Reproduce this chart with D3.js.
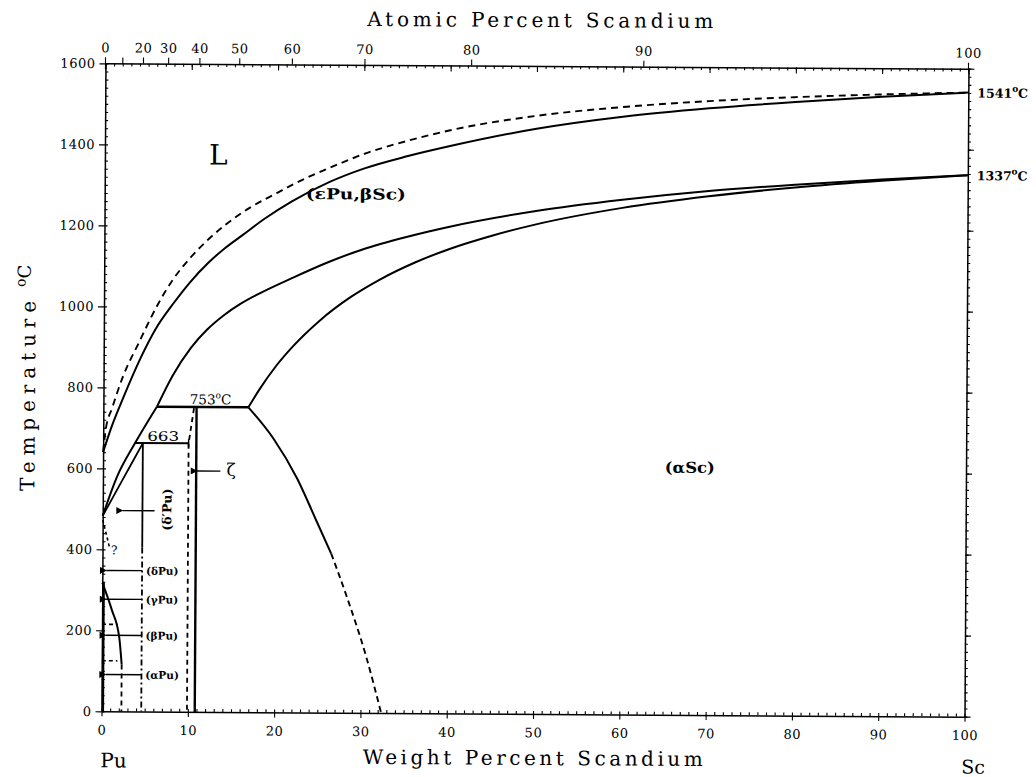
<!DOCTYPE html>
<html><head><meta charset="utf-8">
<script src="https://cdn.jsdelivr.net/npm/d3@7"></script>
<style>body{margin:0;background:#fff} svg{display:block}</style>
</head><body>
<svg id="c" width="1036" height="777"></svg>
<script>
// ---------- data (weight % Sc, temperature °C) ----------
const wtMajorTicks = d3.range(0, 101, 10);
const wtMinorTicks = d3.range(0, 101, 1);
const tempMajorTicks = d3.range(0, 1601, 200);
const tempMinorTicks = d3.range(0, 1601, 20);
const atTicks = [0, 10, 20, 30, 40, 50, 60, 70, 80, 90, 100];
const atTickLabels = [0, 20, 30, 40, 50, 60, 70, 80, 90, 100];

const liquidus = [[0,640],[0.3,698],[1,748],[2.3,830],[4,908],[6.3,1008],[8,1068],[10,1122],[12,1166],[14,1203],[17,1248],[20,1283],[22,1306],[26,1345],[30,1380],[35,1413],[40,1440],[50,1477],[60,1500],[70,1516],[80,1527],[90,1535],[100,1541]];
const solidusEB = [[0,640],[1,705],[2.3,775],[4.3,874],[6,945],[8.1,1010],[10,1062],[12,1108],[14,1146],[16,1178],[18.5,1218],[21.7,1262],[26,1310],[30,1344],[35,1375],[40,1401],[50,1445],[60,1476],[70,1498],[80,1515],[90,1529],[100,1541]];
const solvusEBupper = [[6.2,753],[8,830],[10.1,899],[12,945],[13.9,980],[15.8,1008],[17.8,1032],[21.7,1072],[26,1113],[30,1145],[35,1176],[40,1202],[50,1242],[60,1271],[70,1294],[80,1311],[90,1325],[100,1337]];
const solvusEBlower = [[0,483],[1.6,578],[3.7,663],[6.2,753]];
const solvusAlphaSc = [[16.8,753],[18,795],[20,856],[22,906],[25,968],[28.6,1027],[32,1071],[36,1113],[40,1147],[45,1181],[50,1209],[60,1251],[70,1281],[80,1304],[90,1322],[100,1337]];
const alphaScLowerSolid = [[16.8,753],[19.7,677],[22.5,578],[24.8,472],[26.5,393]];
const alphaScLowerDashed = [[26.5,393],[28.3,289],[30.6,141],[32.4,0]];
const deltaPrimeBoundary = [[0,483],[2.3,573],[4.6,663]];
const deltaPrimeSolid = [[4.6,663],[4.6,405]];
const deltaPrimeDashed = [[4.6,405],[4.6,0]];
const eutectoid753 = [[6.2,753],[16.8,753]];
const peritectic663 = [[3.7,663],[9.9,663]];
const zetaSolid = [[10.8,753],[10.8,0]];
const zetaDashed = [[10.5,750],[9.9,663],[9.9,0]];
const puSolvusCurve = [[0,318],[1.1,252],[2.0,183],[2.3,116]];
const puSolvusDashed = [[2.3,116],[2.3,0]];
const puEdge = [[0.15,318],[0.15,0]];
const puTransitions = [[[0,215],[1.8,215]], [[0,125],[1.8,125]]];
const questionLine = [[0,472],[0.4,440],[0.8,405]];
const puArrows = [ {t:348, label:"(δPu)"}, {t:277, label:"(γPu)"}, {t:188, label:"(βPu)"}, {t:91, label:"(αPu)"} ];
const meltPoints = [ {t:1541, label:"1541"}, {t:1337, label:"1337"} ];

// ---------- setup ----------
const svg = d3.select("#c");
const x = d3.scaleLinear().domain([0,100]).range([103.5,966.5]);
const y = d3.scaleLinear().domain([0,1600]).range([714,66]);
const PU = 244, SC = 44.956;
const at2wt = a => 100*a*SC/(a*SC + (100-a)*PU);
const xa = a => x(at2wt(a));

const g = svg.append("g").attr("transform","rotate(0.35,535,390)");
const serif = "DejaVu Serif";

const defs = svg.append("defs");
defs.append("marker").attr("id","ah").attr("viewBox","0 0 10 10").attr("refX",1).attr("refY",5)
  .attr("markerWidth",9).attr("markerHeight",7).attr("orient","auto-start-reverse")
  .attr("markerUnits","userSpaceOnUse")
  .append("path").attr("d","M0,5 L10,0 L10,10 Z").attr("fill","#000");

// ---------- axes ----------
function styleAxis(sel){
  sel.selectAll(".domain").attr("stroke","#000").attr("stroke-width",1.5);
  sel.selectAll(".tick line").attr("stroke","#000").attr("stroke-width",1.1);
  sel.selectAll(".tick text").attr("fill","#000").attr("font-family",serif).attr("font-size",13).attr("letter-spacing","0.5px");
  sel.attr("font-family",serif);
}
// bottom
const bMin = g.append("g").attr("transform",`translate(0,${y(0)})`)
  .call(d3.axisBottom(x).tickValues(wtMinorTicks).tickSizeInner(-3).tickSizeOuter(0).tickFormat(""));
styleAxis(bMin);
const bMaj = g.append("g").attr("transform",`translate(0,${y(0)})`)
  .call(d3.axisBottom(x).tickValues(wtMajorTicks).tickSize(5).tickPadding(9).tickFormat(d3.format("d")));
bMaj.select(".domain").remove(); styleAxis(bMaj);
// top (weight % ticks, inward)
const tMin = g.append("g").attr("transform",`translate(0,${y(1600)})`)
  .call(d3.axisTop(x).tickValues(wtMinorTicks).tickSizeInner(-3).tickSizeOuter(0).tickFormat(""));
styleAxis(tMin);
const tMaj = g.append("g").attr("transform",`translate(0,${y(1600)})`)
  .call(d3.axisTop(x).tickValues(wtMajorTicks).tickSizeInner(-6).tickSizeOuter(0).tickFormat(""));
tMaj.select(".domain").remove(); styleAxis(tMaj);
// top (atomic % ticks, outward)
const atG = g.append("g");
atTicks.forEach(a=>{
  atG.append("line").attr("x1",xa(a)).attr("x2",xa(a)).attr("y1",y(1600)+(a===0?6:0)).attr("y2",y(1600)-6)
    .attr("stroke","#000").attr("stroke-width",1.1);
});
atTickLabels.forEach(a=>{
  atG.append("text").attr("x",xa(a)).attr("y",y(1600)-11).attr("text-anchor","middle")
    .attr("font-family",serif).attr("font-size",13).attr("letter-spacing","0.5px").text(a);
});
// left
const lMin = g.append("g").attr("transform",`translate(${x(0)},0)`)
  .call(d3.axisLeft(y).tickValues(tempMinorTicks).tickSizeInner(-3).tickSizeOuter(0).tickFormat(""));
styleAxis(lMin);
const lMaj = g.append("g").attr("transform",`translate(${x(0)},0)`)
  .call(d3.axisLeft(y).tickValues(tempMajorTicks).tickSize(6).tickPadding(4).tickFormat(d3.format("d")));
lMaj.select(".domain").remove(); styleAxis(lMaj);
// right
const rMin = g.append("g").attr("transform",`translate(${x(100)},0)`)
  .call(d3.axisRight(y).tickValues(tempMinorTicks).tickSizeInner(3).tickSizeOuter(0).tickFormat(""));
styleAxis(rMin);
const rMaj = g.append("g").attr("transform",`translate(${x(100)},0)`)
  .call(d3.axisRight(y).tickValues(tempMajorTicks).tickSizeInner(6).tickSizeOuter(0).tickFormat(""));
rMaj.select(".domain").remove(); styleAxis(rMaj);

// ---------- axis titles ----------
g.append("text").attr("x",365).attr("y",27).attr("font-family",serif).attr("font-size",20)
  .attr("textLength",346).attr("lengthAdjust","spacing").text("Atomic Percent Scandium");
g.append("text").attr("x",365).attr("y",765).attr("font-family",serif).attr("font-size",20)
  .attr("textLength",340).attr("lengthAdjust","spacing").text("Weight Percent Scandium");
g.append("text").attr("x",x(0)-1).attr("y",770).attr("font-family",serif).attr("font-size",20).text("Pu");
g.append("text").attr("x",x(100)-3).attr("y",771).attr("font-family",serif).attr("font-size",19).text("Sc");
const yt = g.append("text").attr("transform","translate(35,494) rotate(-90)").attr("font-family",serif).attr("font-size",20);
yt.append("tspan").attr("textLength",190).attr("lengthAdjust","spacing").text("Temperature");
yt.append("tspan").attr("dx",8).attr("dy",-10).attr("font-size",14).text("o");
yt.append("tspan").attr("dy",5).attr("font-size",18).text("C");

// ---------- phase boundaries ----------
const line = d3.line().x(d=>x(d[0])).y(d=>y(d[1])).curve(d3.curveMonotoneX);
const lin = d3.line().x(d=>x(d[0])).y(d=>y(d[1]));
function draw(data, gen, dash, w){
  g.append("path").attr("d",gen(data)).attr("fill","none").attr("stroke","#000")
    .attr("stroke-width",w||2).attr("stroke-dasharray",dash||null);
}
draw(liquidus, line, "7,5", 1.9);
draw(solidusEB, line);
draw(solvusEBupper, line);
draw(solvusEBlower, line);
draw(solvusAlphaSc, line);
draw(alphaScLowerSolid, line);
draw(alphaScLowerDashed, line, "6,4", 1.9);
draw(deltaPrimeBoundary, line, null, 1.8);
draw(deltaPrimeSolid, lin, null, 1.8);
draw(deltaPrimeDashed, lin, "6,3,2,3", 1.8);
draw(eutectoid753, lin, null, 2.4);
draw(peritectic663, lin, null, 2);
draw(zetaSolid, lin, null, 2.4);
draw(zetaDashed, lin, "5,4", 1.8);
draw(puSolvusCurve, line, null, 2);
draw(puSolvusDashed, lin, "5,4", 1.8);
draw(puEdge, lin, null, 2.5);
puTransitions.forEach(s=>draw(s, lin, "4,3", 1.6));
draw(questionLine, line, "3,3", 1.6);
g.append("line").attr("x1",x(9.9)).attr("x2",x(9.9)).attr("y1",y(663)-4).attr("y2",y(663)+4).attr("stroke","#000").attr("stroke-width",1.5);

// ---------- arrows ----------
function arrow(x1, x2, t){
  g.append("line").attr("x1",x(x1)).attr("x2",x(x2)).attr("y1",y(t)).attr("y2",y(t))
    .attr("stroke","#000").attr("stroke-width",1.4).attr("marker-end","url(#ah)");
}
puArrows.forEach(a=>{
  arrow(4.6, 0.45, a.t);
  g.append("text").attr("x",x(5.05)).attr("y",y(a.t)+4).attr("font-family",serif).attr("font-size",10.5)
    .attr("font-weight","bold").text(a.label);
});
arrow(6.0, 2.3, 496);
arrow(13.6, 10.9, 595);

// ---------- labels ----------
const lab = (wt,t,txt,size,opts={})=>{
  const tx = g.append("text").attr("x",x(wt)).attr("y",y(t)).attr("font-family",serif)
    .attr("font-size",size).attr("font-weight",opts.bold?"bold":"normal")
    .attr("text-anchor",opts.anchor||"start");
  if(opts.len) tx.attr("textLength",opts.len).attr("lengthAdjust","spacingAndGlyphs");
  tx.text(txt); return tx;
};
lab(13.15,1352,"L",28,{anchor:"middle"});
lab(29.1,1268,"(εPu,βSc)",15,{anchor:"middle",bold:true,len:100});
lab(68.0,598,"(αSc)",15,{anchor:"middle",bold:true,len:50});
lab(5.1,669,"663",13,{len:32});
lab(14.3,584,"ζ",17,{});
lab(1.0,388,"?",12,{});
const t753 = g.append("text").attr("x",x(10.0)).attr("y",y(760)).attr("font-family",serif).attr("font-size",13.5);
t753.append("tspan").text("753");
t753.append("tspan").attr("dy",-6).attr("font-size",9).text("o");
t753.append("tspan").attr("dy",6).text("C");
g.append("text").attr("transform",`translate(${x(7.95)},${y(499)}) rotate(-90)`).attr("text-anchor","middle")
  .attr("font-family",serif).attr("font-size",12.5).attr("font-weight","bold").text("(δ′Pu)");
meltPoints.forEach(m=>{
  const tx = g.append("text").attr("x",x(100)+9).attr("y",y(m.t)+5).attr("font-family",serif)
    .attr("font-size",12.5).attr("font-weight","bold");
  tx.append("tspan").text(m.label);
  tx.append("tspan").attr("dy",-6).attr("font-size",9).text("o");
  tx.append("tspan").attr("dy",6).text("C");
});
</script>
</body></html>
